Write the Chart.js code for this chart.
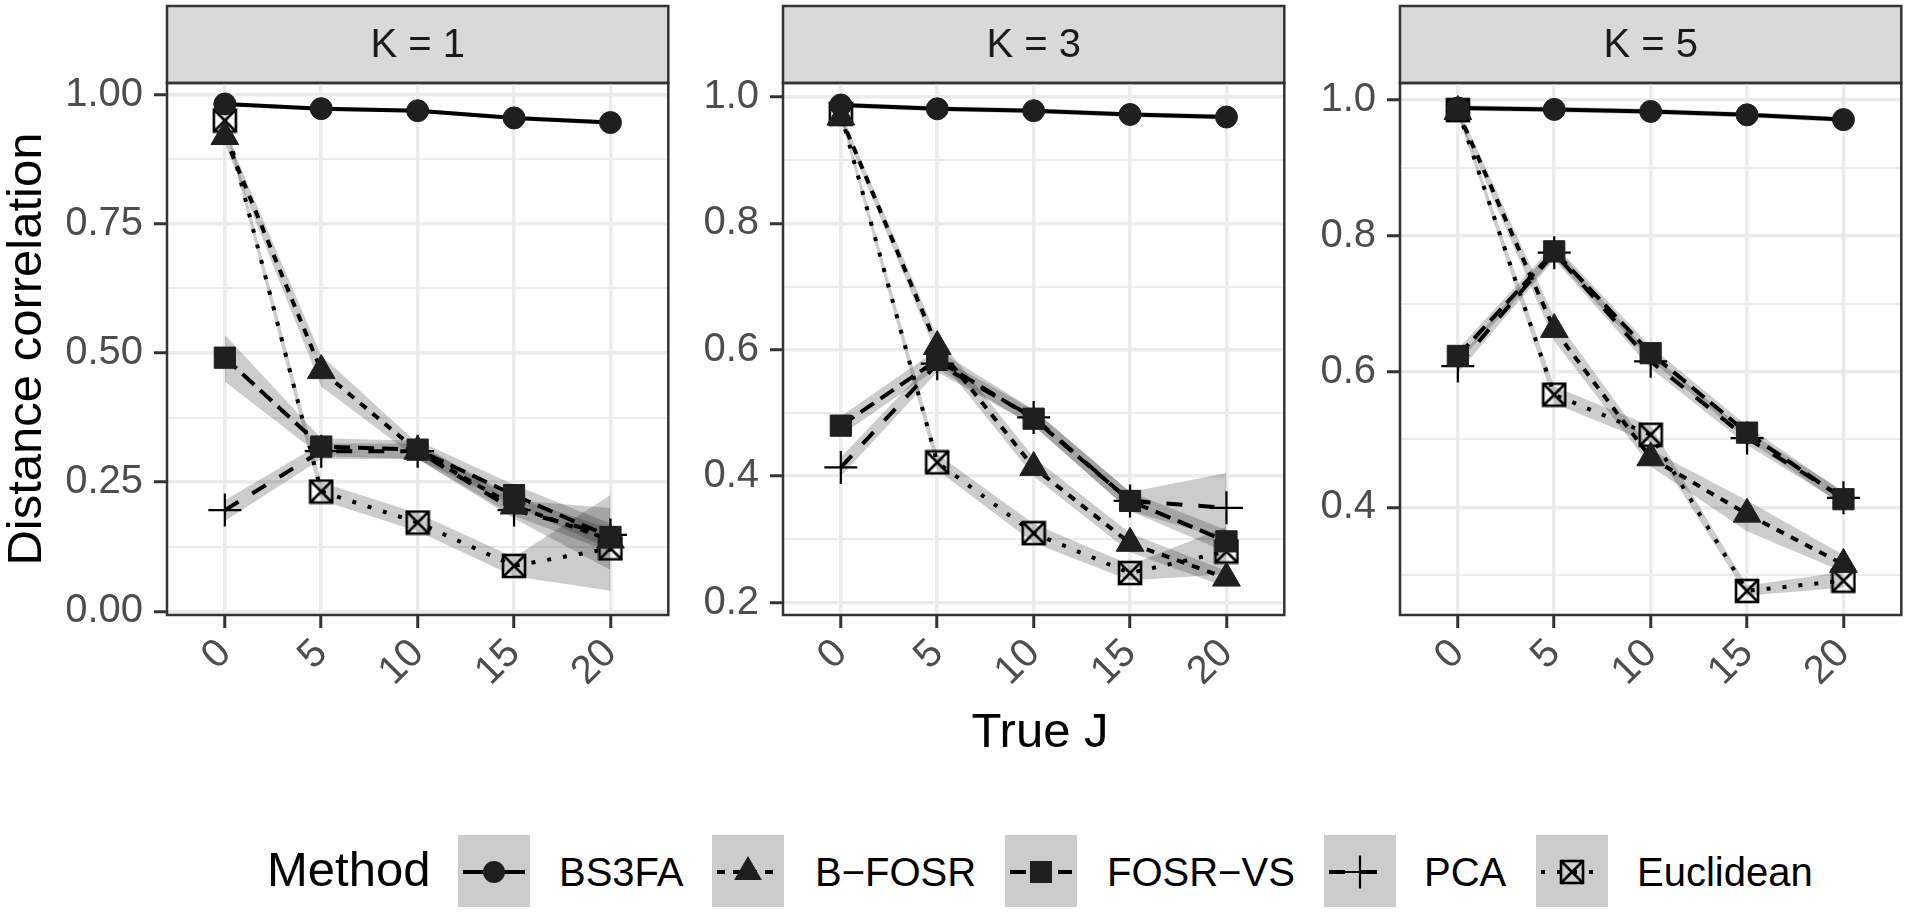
<!DOCTYPE html>
<html>
<head>
<meta charset="utf-8">
<script src="https://cdn.jsdelivr.net/npm/chart.js@4.4.1/dist/chart.umd.min.js"></script>
<style>
  body { margin: 0; width: 1920px; height: 914px; background: #fff; position: relative; overflow: hidden;
         font-family: "Liberation Sans", Arial, sans-serif; }
  canvas.panel { position: absolute; top: 0; }
  .title { position: absolute; height: 60px; line-height: 60px; text-align: center; color: #000; font-size: 49px; white-space: nowrap; }
  #ytitle { left: -276px; top: 319px; width: 600px; transform: rotate(-90deg); }
  #xtitle { left: 740px; top: 700px; width: 600px; }
  .lg { position: absolute; white-space: nowrap; color: #000; line-height: 60px; height: 60px; }
  .lgkey { position: absolute; top: 835px; }
</style>
</head>
<body>
<canvas id="p1" class="panel" width="620" height="700" style="left:67px"></canvas>
<canvas id="p2" class="panel" width="620" height="700" style="left:683px"></canvas>
<canvas id="p3" class="panel" width="620" height="700" style="left:1300px"></canvas>
<div id="ytitle" class="title">Distance correlation</div>
<div id="xtitle" class="title">True J</div>
<div id="legend"></div>

<script>
// x positions (True J)
const jValues = [0, 5, 10, 15, 20];
const panelTitles = ['K = 1', 'K = 3', 'K = 5'];
const methods = ['BS3FA', 'B−FOSR', 'FOSR−VS', 'PCA', 'Euclidean'];

// y axis ticks per panel
const k1Ticks = [0, 0.25, 0.5, 0.75, 1.0];
const k1Minor = [0.125, 0.375, 0.625, 0.875];
const k3Ticks = [0.2, 0.4, 0.6, 0.8, 1.0];
const k3Minor = [0.3, 0.5, 0.7, 0.9];
const k5Ticks = [0.4, 0.6, 0.8, 1.0];
const k5Minor = [0.3, 0.5, 0.7, 0.9];

// K = 1
const k1Bs3fa   = [0.982, 0.973, 0.969, 0.955, 0.946];
const k1Bs3faLo = [0.978, 0.969, 0.965, 0.951, 0.942];
const k1Bs3faHi = [0.986, 0.977, 0.973, 0.959, 0.950];
const k1Bfosr   = [0.919, 0.466, 0.310, 0.204, 0.138];
const k1BfosrLo = [0.905, 0.435, 0.295, 0.185, 0.115];
const k1BfosrHi = [0.930, 0.495, 0.325, 0.222, 0.160];
const k1Fosrvs   = [0.491, 0.319, 0.313, 0.225, 0.144];
const k1FosrvsLo = [0.445, 0.300, 0.295, 0.205, 0.120];
const k1FosrvsHi = [0.535, 0.335, 0.330, 0.245, 0.170];
const k1Pca   = [0.196, 0.310, 0.310, 0.196, 0.148];
const k1PcaLo = [0.175, 0.295, 0.295, 0.180, 0.080];
const k1PcaHi = [0.215, 0.325, 0.325, 0.215, 0.200];
const k1Eucl   = [0.950, 0.232, 0.172, 0.088, 0.122];
const k1EuclLo = [0.940, 0.215, 0.155, 0.068, 0.040];
const k1EuclHi = [0.960, 0.250, 0.190, 0.105, 0.225];

// K = 3
const k3Bs3fa   = [0.987, 0.981, 0.978, 0.972, 0.968];
const k3Bs3faLo = [0.983, 0.977, 0.974, 0.968, 0.964];
const k3Bs3faHi = [0.991, 0.985, 0.982, 0.976, 0.972];
const k3Bfosr   = [0.968, 0.605, 0.414, 0.294, 0.239];
const k3BfosrLo = [0.960, 0.590, 0.400, 0.280, 0.225];
const k3BfosrHi = [0.975, 0.620, 0.430, 0.310, 0.250];
const k3Fosrvs   = [0.480, 0.584, 0.491, 0.361, 0.297];
const k3FosrvsLo = [0.465, 0.570, 0.480, 0.345, 0.280];
const k3FosrvsHi = [0.495, 0.600, 0.505, 0.375, 0.315];
const k3Pca   = [0.414, 0.578, 0.493, 0.361, 0.350];
const k3PcaLo = [0.400, 0.565, 0.480, 0.345, 0.300];
const k3PcaHi = [0.430, 0.590, 0.505, 0.375, 0.405];
const k3Eucl   = [0.973, 0.422, 0.310, 0.247, 0.281];
const k3EuclLo = [0.965, 0.410, 0.295, 0.235, 0.245];
const k3EuclHi = [0.980, 0.435, 0.325, 0.260, 0.320];

// K = 5
const k5Bs3fa   = [0.988, 0.986, 0.983, 0.978, 0.971];
const k5Bs3faLo = [0.984, 0.982, 0.979, 0.974, 0.967];
const k5Bs3faHi = [0.992, 0.990, 0.987, 0.982, 0.975];
const k5Bfosr   = [0.983, 0.662, 0.473, 0.390, 0.316];
const k5BfosrLo = [0.975, 0.645, 0.460, 0.365, 0.305];
const k5BfosrHi = [0.990, 0.680, 0.485, 0.410, 0.330];
const k5Fosrvs   = [0.623, 0.777, 0.627, 0.510, 0.412];
const k5FosrvsLo = [0.613, 0.767, 0.617, 0.500, 0.402];
const k5FosrvsHi = [0.633, 0.787, 0.637, 0.520, 0.422];
const k5Pca   = [0.608, 0.775, 0.615, 0.502, 0.414];
const k5PcaLo = [0.598, 0.765, 0.605, 0.492, 0.404];
const k5PcaHi = [0.618, 0.785, 0.625, 0.512, 0.424];
const k5Eucl   = [0.985, 0.566, 0.507, 0.277, 0.292];
const k5EuclLo = [0.978, 0.553, 0.495, 0.270, 0.282];
const k5EuclHi = [0.990, 0.578, 0.520, 0.285, 0.305];

const FONT = '"Liberation Sans", Arial, sans-serif';
const INK = '#1f1f1f';
const RIBBON = 'rgba(0,0,0,0.2)';
const LW = 4;
const dashes = [[], [8, 8], [16, 8], [16, 16], [4, 12]];

// square with an X (ggplot shape 7)
function boxX(size) {
  const c = document.createElement('canvas');
  c.width = size; c.height = size;
  const g = c.getContext('2d');
  const p = 2;
  g.strokeStyle = '#000';
  g.lineWidth = 2.6;
  g.strokeRect(p, p, size - 2 * p, size - 2 * p);
  g.beginPath();
  g.moveTo(p, p); g.lineTo(size - p, size - p);
  g.moveTo(size - p, p); g.lineTo(p, size - p);
  g.stroke();
  return c;
}
const boxImg = boxX(26);

const pointStyles = [
  { pointStyle: 'circle', pointRadius: 11, pointBackgroundColor: INK, pointBorderColor: INK, pointBorderWidth: 1 },
  { pointStyle: 'triangle', pointRadius: 16, pointBackgroundColor: INK, pointBorderColor: INK, pointBorderWidth: 1 },
  { pointStyle: 'rect', pointRadius: 15, pointBackgroundColor: INK, pointBorderColor: INK, pointBorderWidth: 1 },
  { pointStyle: 'cross', pointRadius: 16.5, pointBackgroundColor: INK, pointBorderColor: '#000', pointBorderWidth: 2.2 },
  { pointStyle: boxImg, pointRadius: 13, pointBackgroundColor: 'rgba(0,0,0,0)', pointBorderColor: '#000', pointBorderWidth: 0 }
];

function xy(arr) {
  return arr.map((v, i) => ({ x: jValues[i], y: v }));
}

function buildDatasets(means, los, his) {
  const ds = [];
  for (let m = 0; m < means.length; m++) {
    ds.push({ data: xy(his[m]), fill: '+1', backgroundColor: RIBBON, borderWidth: 0, pointRadius: 0, order: 3 });
    ds.push({ data: xy(los[m]), fill: false, borderWidth: 0, pointRadius: 0, order: 3 });
  }
  for (let m = 0; m < means.length; m++) {
    ds.push({ data: xy(means[m]), fill: false, borderColor: '#000', borderWidth: LW, borderDash: dashes[m],
              borderCapStyle: 'butt', pointRadius: 0, tension: 0, order: 2 });
  }
  for (let m = 0; m < means.length; m++) {
    ds.push(Object.assign({ data: xy(means[m]), showLine: false, order: 1 }, pointStyles[m]));
  }
  return ds;
}

const stripPlugin = {
  id: 'strip',
  beforeDraw(chart, args, opts) {
    const a = chart.chartArea, g = chart.ctx;
    g.save();
    g.fillStyle = '#D9D9D9';
    g.fillRect(a.left, 6, a.right - a.left, 77);
    g.strokeStyle = '#333';
    g.lineWidth = 2.5;
    g.strokeRect(a.left, 6, a.right - a.left, 77);
    g.fillStyle = '#1A1A1A';
    g.font = '40px ' + FONT;
    g.textAlign = 'center';
    g.textBaseline = 'middle';
    g.fillText(opts.text, (a.left + a.right) / 2, 46);
    g.restore();
  },
  afterDatasetsDraw(chart) {
    const a = chart.chartArea, g = chart.ctx;
    g.save();
    g.strokeStyle = '#333';
    g.lineWidth = 2.5;
    g.strokeRect(a.left, a.top, a.right - a.left, a.bottom - a.top);
    g.restore();
  }
};

function makePanel(id, title, means, los, his, yMin, yMax, major, minor, dec) {
  const isMajor = v => major.some(t => Math.abs(t - v) < 1e-6);
  new Chart(document.getElementById(id), {
    type: 'line',
    data: { datasets: buildDatasets(means, los, his) },
    plugins: [stripPlugin],
    options: {
      responsive: false,
      animation: false,
      layout: { padding: { top: 83, right: 8, left: 0, bottom: 0 } },
      plugins: { legend: { display: false }, tooltip: { enabled: false }, strip: { text: title } },
      scales: {
        x: {
          type: 'linear', min: -3, max: 23,
          afterBuildTicks: s => { s.ticks = jValues.map(v => ({ value: v })); },
          afterFit: s => { s.height = 85; },
          border: { display: false },
          grid: { color: '#EBEBEB', lineWidth: 3.5, tickLength: 13, tickColor: '#333', tickWidth: 3 },
          ticks: { color: '#4D4D4D', font: { size: 40, family: FONT }, minRotation: 45, maxRotation: 45,
                   autoSkip: false, padding: 2, callback: v => String(v) }
        },
        y: {
          min: yMin, max: yMax,
          afterBuildTicks: s => {
            s.ticks = major.concat(minor).sort((a, b) => a - b).map(v => ({ value: v }));
          },
          afterFit: s => { s.width = 100; },
          border: { display: false },
          grid: {
            color: '#EBEBEB',
            lineWidth: c => (c.tick && isMajor(c.tick.value)) ? 3.5 : 2,
            tickLength: 13,
            tickWidth: 3,
            tickColor: c => (c.tick && isMajor(c.tick.value)) ? '#333' : 'rgba(0,0,0,0)'
          },
          ticks: { color: '#4D4D4D', font: { size: 40, family: FONT }, padding: 11,
                   callback: v => isMajor(v) ? v.toFixed(dec) : '' }
        }
      }
    }
  });
}

makePanel('p1', panelTitles[0],
  [k1Bs3fa, k1Bfosr, k1Fosrvs, k1Pca, k1Eucl],
  [k1Bs3faLo, k1BfosrLo, k1FosrvsLo, k1PcaLo, k1EuclLo],
  [k1Bs3faHi, k1BfosrHi, k1FosrvsHi, k1PcaHi, k1EuclHi],
  -0.007, 1.0226, k1Ticks, k1Minor, 2);
makePanel('p2', panelTitles[1],
  [k3Bs3fa, k3Bfosr, k3Fosrvs, k3Pca, k3Eucl],
  [k3Bs3faLo, k3BfosrLo, k3FosrvsLo, k3PcaLo, k3EuclLo],
  [k3Bs3faHi, k3BfosrHi, k3FosrvsHi, k3PcaHi, k3EuclHi],
  0.1806, 1.0218, k3Ticks, k3Minor, 1);
makePanel('p3', panelTitles[2],
  [k5Bs3fa, k5Bfosr, k5Fosrvs, k5Pca, k5Eucl],
  [k5Bs3faLo, k5BfosrLo, k5FosrvsLo, k5PcaLo, k5EuclLo],
  [k5Bs3faHi, k5BfosrHi, k5FosrvsHi, k5PcaHi, k5EuclHi],
  0.2415, 1.0249, k5Ticks, k5Minor, 1);

// legend (HTML + small canvases)
const legendBoxX = [458, 712, 1005, 1324, 1536];
const legendTextX = [559, 815, 1107, 1424, 1637];
const lg = document.getElementById('legend');

function addText(txt, x, top, size) {
  const d = document.createElement('div');
  d.className = 'lg';
  d.textContent = txt;
  d.style.left = x + 'px';
  d.style.top = top + 'px';
  d.style.fontSize = size + 'px';
  lg.appendChild(d);
}
addText('Method', 267, 839, 49);

methods.forEach((name, m) => {
  const c = document.createElement('canvas');
  c.width = 72; c.height = 72;
  c.className = 'lgkey';
  c.style.left = legendBoxX[m] + 'px';
  const g = c.getContext('2d');
  g.fillStyle = '#CCCCCC';
  g.fillRect(0, 0, 72, 72);
  g.strokeStyle = '#000';
  g.lineWidth = LW;
  g.setLineDash(dashes[m]);
  g.beginPath(); g.moveTo(5, 37); g.lineTo(67, 37); g.stroke();
  g.setLineDash([]);
  g.fillStyle = INK;
  const cx = 36, cy = 37;
  if (m === 0) { g.beginPath(); g.arc(cx, cy, 11, 0, Math.PI * 2); g.fill(); }
  if (m === 1) {
    g.beginPath();
    for (let k = 0; k < 3; k++) {
      const a = k * 2 * Math.PI / 3;
      g.lineTo(cx + Math.sin(a) * 16, cy - Math.cos(a) * 16);
    }
    g.closePath(); g.fill();
  }
  if (m === 2) g.fillRect(cx - 11, cy - 11, 22, 22);
  if (m === 3) {
    g.lineWidth = 2.2;
    g.beginPath(); g.moveTo(cx - 16.5, cy); g.lineTo(cx + 16.5, cy); g.moveTo(cx, cy - 16.5); g.lineTo(cx, cy + 16.5); g.stroke();
  }
  if (m === 4) g.drawImage(boxImg, cx - 13, cy - 13);
  lg.appendChild(c);
  addText(name, legendTextX[m], 842, 40);
});
</script>
</body>
</html>
